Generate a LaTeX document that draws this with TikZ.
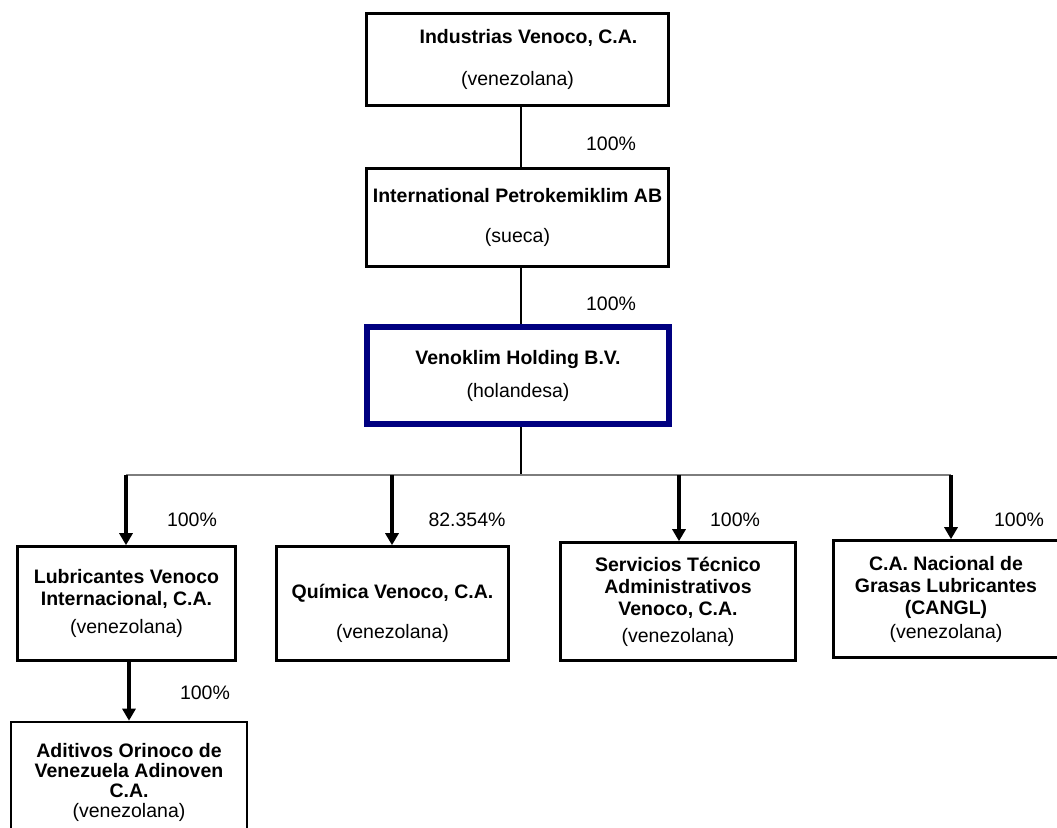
\documentclass[tikz,border=0pt]{standalone}
\usepackage{fontspec}
\setmainfont{Liberation Sans}
\usetikzlibrary{arrows.meta}
\definecolor{azulmarino}{RGB}{0,0,128}
\definecolor{gris}{RGB}{125,125,125}

\begin{document}
\begin{tikzpicture}[
    x=1pt, y=-1pt,
    caja/.style={draw, rectangle, line width=2.6pt, inner sep=0pt, align=center, font=\fontsize{19.5}{22}\selectfont},
    caja_holding/.style={caja, draw=azulmarino, line width=6pt},
    linea/.style={line width=2.4pt},
    bus/.style={draw=gris, line width=2pt},
    flecha/.style={-{Triangle[width=13pt, length=12pt]}, line width=3.2pt},
    pct/.style={font=\fontsize{19.5}{22}\selectfont, inner sep=0pt}
]
\useasboundingbox (0,0) rectangle (1057,827);

% Chain of holding companies
\node[caja, minimum width=302pt, minimum height=92pt] (industrias) at (517.5,59.5) {\hspace*{22pt}\textbf{Industrias Venoco, C.A.}\\[20pt] (venezolana)};
\node[caja, minimum width=302pt, minimum height=98pt] (petrokemiklim) at (517.5,217.5) {\textbf{International Petrokemiklim AB}\\[18pt] (sueca)};
\node[caja_holding, minimum width=302pt, minimum height=97pt] (holding) at (518,375.5) {\textbf{Venoklim Holding B.V.}\\[11pt] (holandesa)};

% Subsidiaries
\node[caja, minimum width=218pt, minimum height=114pt] (lubricantes) at (126.5,603.5) {\textbf{Lubricantes Venoco}\\ \textbf{Internacional, C.A.}\\[6pt] (venezolana)};
\node[caja, minimum width=232pt, minimum height=114pt] (quimica) at (392.5,603.5) {\rule{0pt}{34pt}\textbf{Química Venoco, C.A.}\\[18pt] (venezolana)};
\node[caja, minimum width=235pt, minimum height=118pt] (servicios) at (678,601.5) {\textbf{Servicios Técnico}\\ \textbf{Administrativos}\\ \textbf{Venoco, C.A.}\\[5pt] (venezolana)};
\node[caja, minimum width=225pt, minimum height=117pt] (cangl) at (946,599) {\textbf{C.A. Nacional de}\\ \textbf{Grasas Lubricantes}\\ \textbf{(CANGL)}\\[2pt] (venezolana)};
\node[caja, minimum width=236pt, minimum height=120pt] (aditivos) at (129,782) {\textbf{Aditivos Orinoco de}\\[-2pt] \textbf{Venezuela Adinoven}\\[-2pt] \textbf{C.A.}\\[-2pt] (venezolana)};

% Ownership links
\coordinate (eje) at (521,0);
\draw[linea] (industrias.south -| eje) -- (petrokemiklim.north -| eje);
\draw[linea] (petrokemiklim.south -| eje) -- (holding.north -| eje);
\node[pct] (p_ipk) at (611,144) {100\%};
\node[pct] (p_hol) at (611,304) {100\%};

\coordinate (b_lub) at (126,475);
\coordinate (b_qui) at (392,475);
\coordinate (b_ser) at (679,475);
\coordinate (b_can) at (951,475);
\draw[linea] (holding.south -| eje) -- (eje |- b_lub);
\draw[bus] (b_lub) -- (b_can);

\draw[flecha] (b_lub) -- (b_lub |- lubricantes.north);
\draw[flecha] (b_qui) -- (b_qui |- quimica.north);
\draw[flecha] (b_ser) -- (b_ser |- servicios.north);
\draw[flecha] (b_can) -- (b_can |- cangl.north);
\draw[flecha] (lubricantes.south -| aditivos.north) -- (aditivos.north);

\node[pct] (p_lub) at (192,520) {100\%};
\node[pct] (p_qui) at (467,520) {82.354\%};
\node[pct] (p_ser) at (735,520) {100\%};
\node[pct] (p_can) at (1019,520) {100\%};
\node[pct] (p_adi) at (205,693) {100\%};

\end{tikzpicture}
\end{document}
